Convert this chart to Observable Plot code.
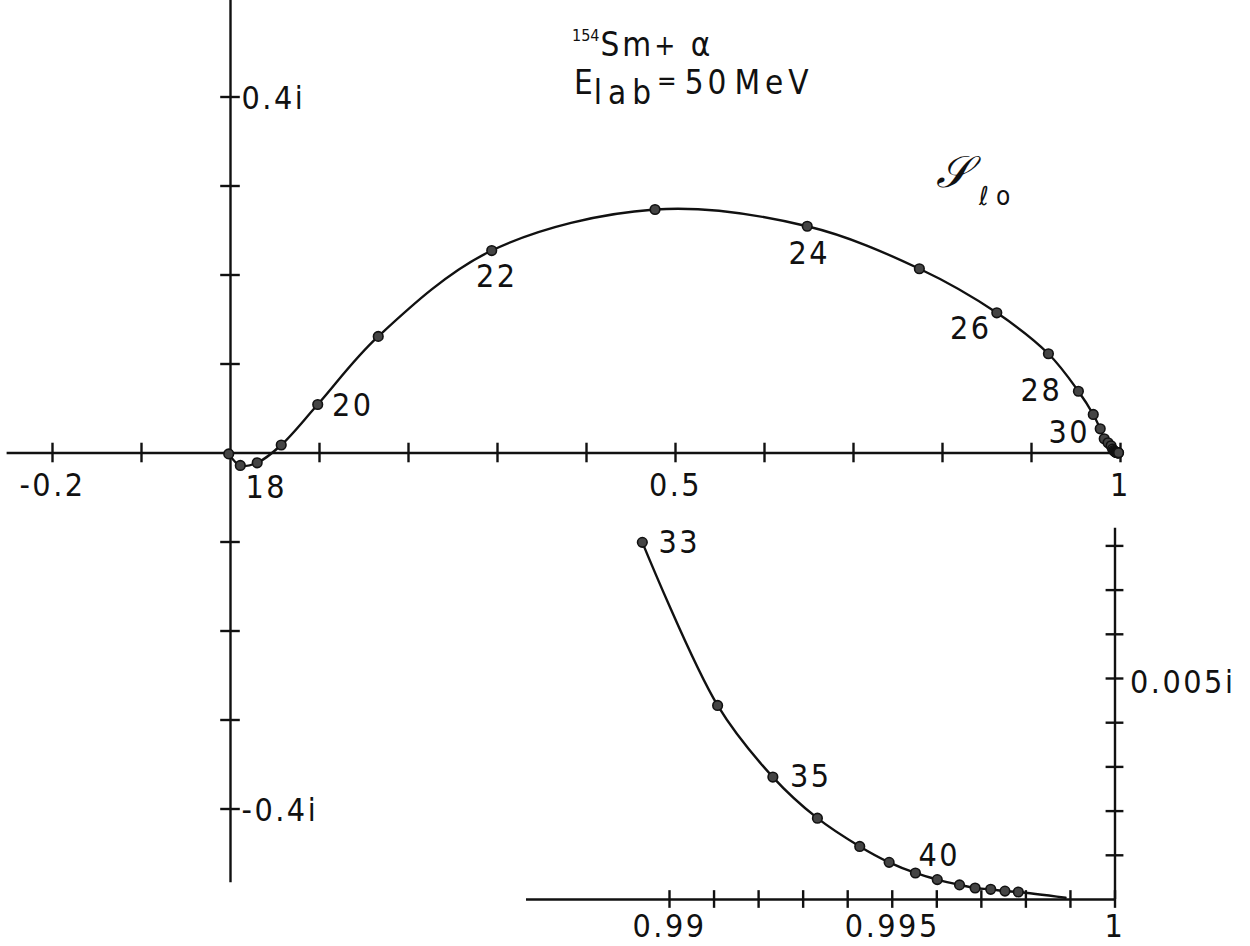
<!DOCTYPE html>
<html>
<head>
<meta charset="utf-8">
<script src="https://cdn.jsdelivr.net/npm/d3@7"></script>
<script src="https://cdn.jsdelivr.net/npm/@observablehq/plot@0.6"></script>
<style>
  body { margin: 0; background: #fff; }
  #fig { position: relative; width: 1250px; height: 946px; overflow: hidden; color: #111;
         font-family: "DejaVu Sans Condensed", "DejaVu Sans", sans-serif; }
  #fig svg { position: absolute; left: 0; top: 0; }
  .t { position: absolute; line-height: 1; white-space: nowrap; font-size: 33px; }
  .t span { position: relative; }
</style>
</head>
<body>
<div id="fig">
  <span class="t" style="left:572px;top:28px;letter-spacing:3px;"><span style="font-size:16px;top:-15px;letter-spacing:0;margin-right:1px;">154</span>Sm<span style="font-size:28px;top:-1px;">+</span> α</span>
  <span class="t" style="left:574px;top:66px;">E<span style="top:10px;letter-spacing:6px;margin-left:1px;">lab</span><span style="font-size:26px;top:-4px;margin-right:8px;">=</span><span style="letter-spacing:4px;">50</span><span style="letter-spacing:5px;margin-left:4px;">MeV</span></span>
  <span class="t" style="left:936px;top:150px;font-size:44px;font-family:'DejaVu Serif','DejaVu Sans',serif;font-style:italic;">𝒮</span>
  <span class="t" style="left:979px;top:183px;font-size:26px;">ℓ</span>
  <span class="t" style="left:996px;top:183px;font-size:26px;">o</span>
</div>
<script>
// Partial-wave S-matrix elements S_l for 154Sm + alpha at E_lab = 50 MeV
const ell = [16, 17, 18, 19, 20, 21, 22, 23, 24, 25, 26, 27, 28, 29, 30, 31, 32,
             33, 34, 35, 36, 37, 38, 39, 40, 41, 42, 43, 44, 45];
const reS = [-0.002, 0.011, 0.030, 0.057, 0.098, 0.166, 0.2935, 0.477, 0.648, 0.774,
             0.861, 0.919, 0.9527, 0.9694, 0.9772, 0.9817, 0.9860,
             0.98939, 0.99108, 0.99232, 0.99332, 0.99427, 0.99493, 0.99552, 0.99601,
             0.99651, 0.99686, 0.99721, 0.99753, 0.99783];
const imS = [-0.001, -0.014, -0.011, 0.009, 0.0545, 0.131, 0.2275, 0.2736, 0.2548, 0.207,
             0.1575, 0.1115, 0.0694, 0.0433, 0.0272, 0.0160, 0.0115,
             0.00808, 0.00439, 0.00277, 0.00184, 0.00120, 0.00084, 0.00060, 0.00045,
             0.00033, 0.00026, 0.00023, 0.00019, 0.00017];
// where the drawn curve meets the real axis in the enlarged view
const tailRe = 0.99889, tailIm = 0.00004;

// main axes
const mainXExtent = [-0.251, 1.0];
const mainYExtent = [-0.483, 0.51];
const mainXTicks = [-0.2, -0.1, 0.1, 0.2, 0.3, 0.4, 0.5, 0.6, 0.7, 0.8, 0.9, 1.0];
const mainYTicks = [-0.4, -0.3, -0.2, -0.1, 0.1, 0.2, 0.3, 0.4];
const mainXLabelValues = [-0.2, 0.5, 1];
const mainXLabelText = ["-0.2", "0.5", "1"];
const mainYLabelValues = [0.4, -0.4];
const mainYLabelText = ["0.4i", "-0.4i"];
const mainLabelled = [18, 20, 22, 24, 26, 28, 30];

// enlarged view near S = 1
const insetFirstL = 33;
const insetXExtent = [0.98679, 1.0];
const insetYExtent = [0, 0.0084];
const insetXTicks = [0.990, 0.991, 0.992, 0.993, 0.994, 0.995, 0.996, 0.997, 0.998, 0.999, 1.0];
const insetYTicks = [0.001, 0.002, 0.003, 0.004, 0.005, 0.006, 0.007, 0.008];
const insetXLabelValues = [0.99, 0.995, 1];
const insetXLabelText = ["0.99", "0.995", "1"];
const insetYLabelValues = [0.005];
const insetYLabelText = ["0.005i"];
const insetLabelled = [33, 35, 40];

const FONT = '"DejaVu Sans Condensed", "DejaVu Sans", sans-serif';
const INK = "#111";
const pts = ell.map((l, i) => ({l, re: reS[i], im: imS[i]}));
const byL = l => pts.find(p => p.l === l);

// label offsets (px) relative to their point
const mainOffsets = {18: [9, 25], 20: [35, 1], 22: [5, 26], 24: [2, 28], 26: [-26, 16], 28: [-37, 0], 30: [-31, 4]};
const insetOffsets = {33: [37, 0], 35: [38, 0], 40: [2, -24]};

const textStyle = {fontSize: 32, fontFamily: FONT, fill: INK};
const lineStyle = {stroke: INK, strokeWidth: 2.4};
const dotStyle = {r: 4.8, fill: "#444", stroke: INK, strokeWidth: 1.6};
const svgStyle = {background: "transparent", overflow: "visible", letterSpacing: "2.5px"};

const main = Plot.plot({
  width: 1250, height: 946, margin: 0,
  x: {domain: [0, 1], range: [230, 1120], axis: null},
  y: {domain: [0, 0.4], range: [452.5, 96.5], axis: null},
  style: svgStyle,
  marks: [
    Plot.ruleY([0], {x1: mainXExtent[0], x2: mainXExtent[1], ...lineStyle}),
    Plot.ruleX([0], {y1: mainYExtent[0], y2: mainYExtent[1], ...lineStyle}),
    Plot.ruleX(mainXTicks, {x: d => d, y1: -0.011, y2: 0.011, ...lineStyle}),
    Plot.ruleY(mainYTicks, {y: d => d, x1: -0.011, x2: 0.011, ...lineStyle}),
    Plot.text(mainXLabelValues, {x: d => d, y: 0, text: (d, i) => mainXLabelText[i], dy: 33, ...textStyle}),
    Plot.text(mainYLabelValues, {x: 0, y: d => d, text: (d, i) => mainYLabelText[i], dx: 11, dy: 2,
      textAnchor: "start", ...textStyle}),
    Plot.line(pts, {x: "re", y: "im", curve: "catmull-rom", ...lineStyle}),
    Plot.dot(pts, {x: "re", y: "im", ...dotStyle}),
    ...mainLabelled.map(l => Plot.text([byL(l)], {x: "re", y: "im", text: d => String(d.l),
      dx: mainOffsets[l][0], dy: mainOffsets[l][1], ...textStyle}))
  ]
});

const insetPts = pts.filter(p => p.l >= insetFirstL);
const insetLine = insetPts.concat([{re: tailRe, im: tailIm}]);

const inset = Plot.plot({
  width: 1250, height: 946, margin: 0,
  x: {domain: [0.99, 1.0], range: [669, 1114.5], axis: null},
  y: {domain: [0, 0.005], range: [899, 678], axis: null},
  style: svgStyle,
  marks: [
    Plot.ruleY([0], {x1: insetXExtent[0], x2: insetXExtent[1], ...lineStyle}),
    Plot.ruleX([1], {y1: insetYExtent[0], y2: insetYExtent[1], ...lineStyle}),
    Plot.ruleX(insetXTicks, {x: d => d, y1: -0.0002, y2: 0.0002, ...lineStyle}),
    Plot.ruleY(insetYTicks, {y: d => d, x1: 0.9998, x2: 1.0002, ...lineStyle}),
    Plot.text(insetXLabelValues, {x: d => d, y: 0, text: (d, i) => insetXLabelText[i], dy: 27, ...textStyle}),
    Plot.text(insetYLabelValues, {x: 1, y: d => d, text: (d, i) => insetYLabelText[i], dx: 15, dy: 4,
      textAnchor: "start", ...textStyle}),
    Plot.line(insetLine, {x: "re", y: "im", curve: "catmull-rom", ...lineStyle}),
    Plot.dot(insetPts, {x: "re", y: "im", ...dotStyle}),
    ...insetLabelled.map(l => Plot.text([byL(l)], {x: "re", y: "im", text: d => String(d.l),
      dx: insetOffsets[l][0], dy: insetOffsets[l][1], ...textStyle}))
  ]
});

const fig = document.getElementById("fig");
fig.insertBefore(inset, fig.firstChild);
fig.insertBefore(main, fig.firstChild);
</script>
</body>
</html>
